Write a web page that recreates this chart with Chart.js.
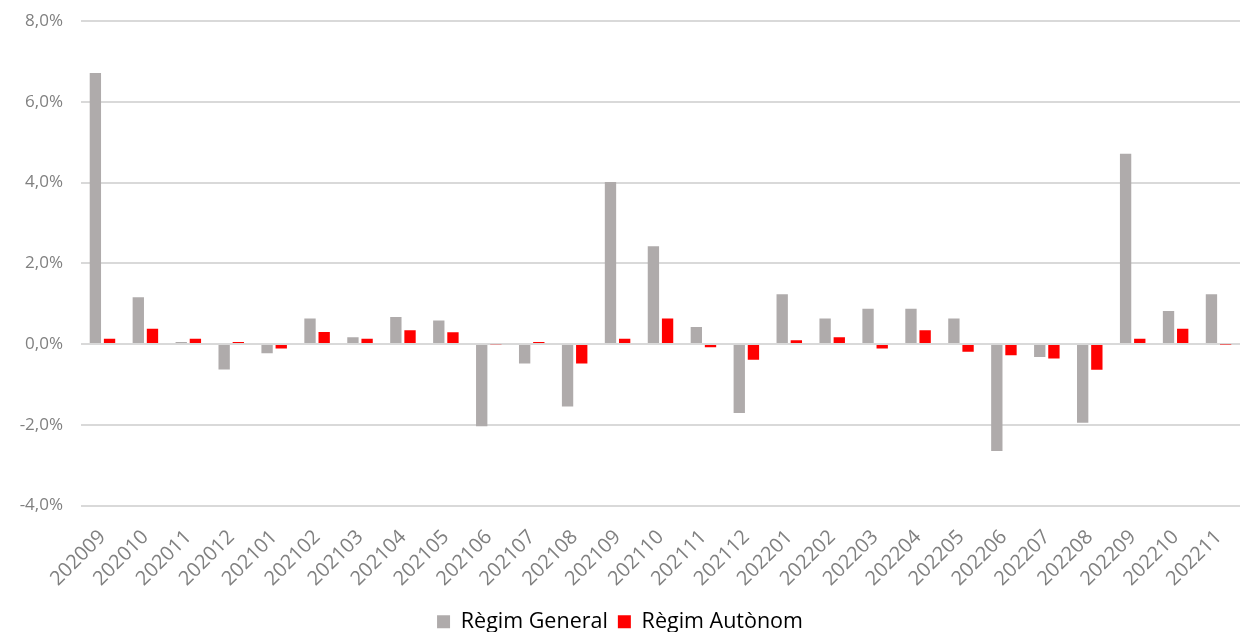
<!DOCTYPE html>
<html>
<head>
<meta charset="utf-8">
<script src="https://cdn.jsdelivr.net/npm/chart.js@4"></script>
<style>
html,body{margin:0;padding:0;background:#fff;}
#wrap{width:1247px;height:632px;position:relative;}
</style>
</head>
<body>
<div id="wrap"><canvas id="c" width="1247" height="632"></canvas></div>
<script>
const categories = ["202009","202010","202011","202012","202101","202102","202103","202104","202105","202106","202107","202108","202109","202110","202111","202112","202201","202202","202203","202204","202205","202206","202207","202208","202209","202210","202211"];
const regimGeneral = [6.71,1.16,0.05,-0.63,-0.23,0.63,0.17,0.67,0.58,-2.04,-0.48,-1.55,4.01,2.42,0.42,-1.71,1.23,0.63,0.87,0.87,0.63,-2.65,-0.32,-1.95,4.71,0.82,1.23];
const regimAutonom = [0.13,0.38,0.13,0.05,-0.11,0.30,0.13,0.34,0.29,-0.02,0.05,-0.48,0.13,0.63,-0.08,-0.39,0.09,0.17,-0.11,0.34,-0.19,-0.28,-0.36,-0.64,0.13,0.38,-0.01];
const yTicks = [-4,-2,0,2,4,6,8];

const FONT = "'Open Sans', sans-serif";

new Chart(document.getElementById('c'), {
  type: 'bar',
  data: {
    labels: categories,
    datasets: [
      { label: 'Règim General', data: regimGeneral, backgroundColor: '#AFABAB', borderWidth: 0, categoryPercentage: 0.66, barPercentage: 0.8 },
      { label: 'Règim Autònom', data: regimAutonom, backgroundColor: '#FF0000', borderWidth: 0, categoryPercentage: 0.66, barPercentage: 0.8 }
    ]
  },
  options: {
    responsive: false,
    animation: false,
    layout: { padding: { top: 21, right: 7, left: 0, bottom: -10.5 } },
    plugins: {
      legend: {
        position: 'bottom',
        labels: {
          color: '#000',
          font: { family: FONT, size: 21.5 },
          boxWidth: 13, boxHeight: 13, padding: 10
        }
      },
      tooltip: { enabled: false }
    },
    scales: {
      x: {
        grid: { display: false, drawTicks: false },
        border: { display: false },
        ticks: {
          color: '#808080',
          font: { family: FONT, size: 20 },
          minRotation: 45, maxRotation: 45,
          autoSkip: false, padding: 20
        },
        afterFit: (s) => { s.height = 95.5; s.paddingLeft = 0; s.paddingRight = 0; }
      },
      y: {
        min: -4, max: 8,
        afterBuildTicks: (s) => { s.ticks = yTicks.map(v => ({ value: v })); },
        grid: { color: '#D9D9D9', lineWidth: 2, drawTicks: false },
        border: { display: false },
        ticks: {
          color: '#808080',
          font: { family: FONT, size: 17 },
          padding: 18,
          callback: (v) => v.toFixed(1).replace('.', ',') + '%'
        },
        afterFit: (s) => { s.width = 81; s.paddingTop = 0; s.paddingBottom = 0; }
      }
    }
  }
});
</script>
</body>
</html>
